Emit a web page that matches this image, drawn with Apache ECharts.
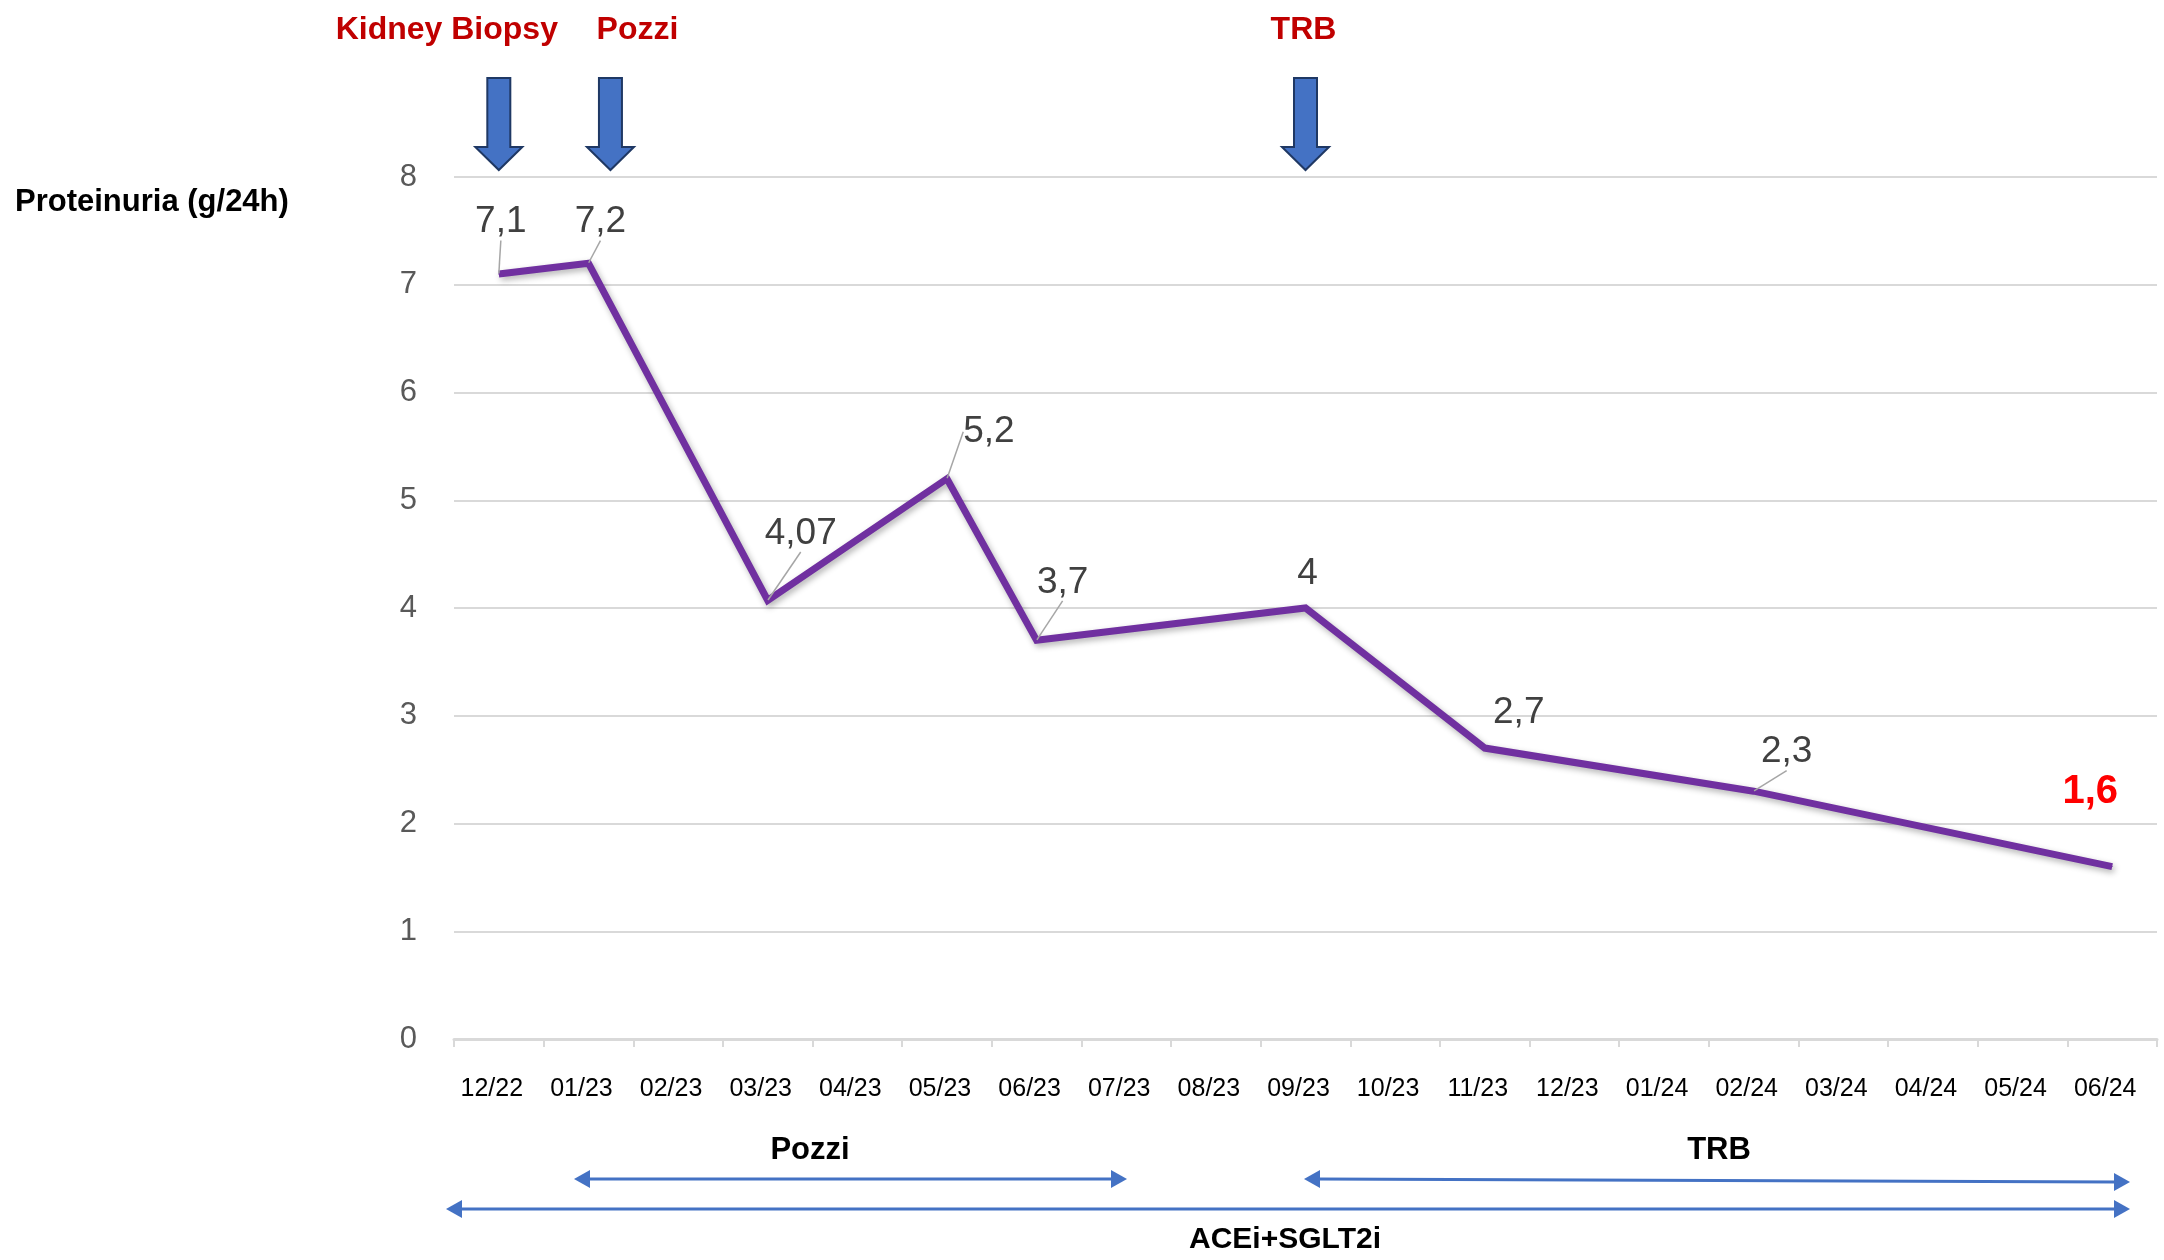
<!DOCTYPE html>
<html><head><meta charset="utf-8">
<script src="https://cdn.jsdelivr.net/npm/echarts@6/dist/echarts.min.js"></script>
<style>html,body{margin:0;padding:0;background:#fff}#c{width:2164px;height:1260px}</style>
</head><body><div id="c"></div>
<script>
const categories = ['12/22','01/23','02/23','03/23','04/23','05/23','06/23','07/23','08/23','09/23','10/23','11/23','12/23','01/24','02/24','03/24','04/24','05/24','06/24'];
const proteinuria = [7.1, 7.2, null, 4.07, null, 5.2, 3.7, null, null, 4, null, 2.7, null, null, 2.3, null, null, null, 1.6];
const yTicks = [0,1,2,3,4,5,6,7,8];
const topEvents = [{name:'Kidney Biopsy', cat:'12/22'}, {name:'Pozzi', cat:'01/23'}, {name:'TRB', cat:'09/23'}];

const FONT = '"Liberation Sans", Arial, sans-serif';
const labelOffsets = {0:[2,-52],1:[12,-41],3:[33,-67],5:[42,-47],6:[26,-58],9:[2,-34],11:[34,-35],14:[33,-39],18:[-22,-75]};
const noLeader = {9:true,11:true,18:true};

const seriesData = proteinuria.map((v,i)=>{
  if (v === null) return null;
  const item = {value: v};
  if (i === proteinuria.length-1) {
    item.label = {color:'#FF0000', fontWeight:'bold', fontSize:40};
  }
  if (noLeader[i]) item.labelLine = {show:false};
  return item;
});

const chart = echarts.init(document.getElementById('c'), null, {renderer:'canvas'});
const option = {
  backgroundColor:'#ffffff',
  animation:false,
  grid:{left:454, right:7, top:177, bottom:221, containLabel:false},
  xAxis:{
    type:'category', data:categories, boundaryGap:true,
    axisLine:{show:true, lineStyle:{color:'#D9D9D9', width:3}},
    axisTick:{show:true, interval:0, length:8, lineStyle:{color:'#D9D9D9', width:2}},
    axisLabel:{interval:0, color:'#000000', fontSize:25, fontFamily:FONT, margin:38, padding:[0,14,0,0]},
    splitLine:{show:false}
  },
  yAxis:{
    type:'value', min:0, max:8, interval:1,
    axisLine:{show:false}, axisTick:{show:false},
    axisLabel:{color:'#595959', fontSize:31, fontFamily:FONT, margin:37},
    splitLine:{show:true, lineStyle:{color:'#D9D9D9', width:2}}
  },
  series:[{
    type:'line', data:seriesData, connectNulls:true,
    symbol:'circle', symbolSize:1, showSymbol:true,
    itemStyle:{color:'#7030A0'},
    lineStyle:{color:'#7030A0', width:7, cap:'butt', join:'miter',
      shadowColor:'rgba(0,0,0,0.3)', shadowBlur:6, shadowOffsetX:2, shadowOffsetY:3},
    label:{show:true, position:'inside', color:'#404040', fontSize:37, fontFamily:FONT,
      formatter:p=>String(p.value).replace('.',',')},
    labelLayout:function(p){ const o = labelOffsets[p.dataIndex] || [0,-40]; return {dx:o[0], dy:o[1]}; },
    labelLine:{show:true, lineStyle:{color:'#A6A6A6', width:1.5}}
  }]
};
chart.setOption(option);

// annotations
const g = [];
g.push({type:'text', left:15, top:187, style:{text:'Proteinuria (g/24h)', font:'bold 31px '+FONT, fill:'#000'}});
const xOff = {'Kidney Biopsy':0, 'Pozzi':22, 'TRB':0};
const txtOff = {'Kidney Biopsy':-52, 'Pozzi':27, 'TRB':-2};
topEvents.forEach(ev=>{
  const cx = chart.convertToPixel({xAxisIndex:0}, ev.cat) + xOff[ev.name];
  g.push({type:'polygon', shape:{points:[[cx-11.5,78],[cx+11.5,78],[cx+11.5,147],[cx+23.5,147],[cx,170],[cx-23.5,147],[cx-11.5,147]]},
    style:{fill:'#4472C4', stroke:'#1F3864', lineWidth:2}});
  g.push({type:'text', x:cx+txtOff[ev.name], y:30, style:{text:ev.name, font:'bold 32px '+FONT, fill:'#C00000', align:'center', verticalAlign:'middle'}});
});
function hArrow(x1,y1,x2,y2,leftHead,rightHead){
  const col='#4472C4';
  g.push({type:'line', shape:{x1:x1+(leftHead?14:0), y1:y1, x2:x2-(rightHead?14:0), y2:y2}, style:{stroke:col, lineWidth:3}});
  if(leftHead) g.push({type:'polygon', shape:{points:[[x1,y1],[x1+16,y1-9],[x1+16,y1+9]]}, style:{fill:col}});
  if(rightHead) g.push({type:'polygon', shape:{points:[[x2,y2],[x2-16,y2-9],[x2-16,y2+9]]}, style:{fill:col}});
}
hArrow(574,1179,1127,1179,true,true);
hArrow(1304,1179,2130,1182,true,true);
hArrow(446,1209,2130,1209,true,true);
g.push({type:'text', x:810, y:1150, style:{text:'Pozzi', font:'bold 31px '+FONT, fill:'#000', align:'center', verticalAlign:'middle'}});
g.push({type:'text', x:1719, y:1150, style:{text:'TRB', font:'bold 31px '+FONT, fill:'#000', align:'center', verticalAlign:'middle'}});
g.push({type:'text', x:1285, y:1240, style:{text:'ACEi+SGLT2i', font:'bold 30px '+FONT, fill:'#000', align:'center', verticalAlign:'middle'}});
chart.setOption({graphic:g});
</script></body></html>
